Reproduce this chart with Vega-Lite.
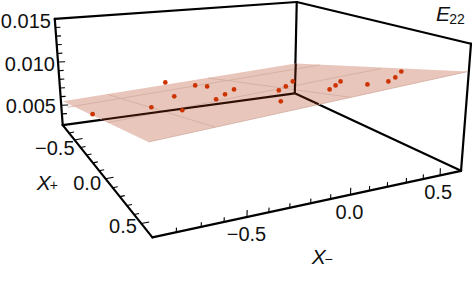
{"$schema":"https://vega.github.io/schema/vega-lite/v6.json","width":473,"height":285,"autosize":{"type":"fit","contains":"padding"},"padding":0,"background":"white","view":{"stroke":null},
"datasets":{
"plane":[{"u":62,"v":100,"v2":100},{"u":148,"v":86,"v2":141},{"u":296,"v":62,"v2":108.3},{"u":469,"v":70,"v2":70}],
"mesh":[{"u":67,"v":106,"u2":320,"v2":63.5},{"u":107,"v":121.5,"u2":382,"v2":67},{"u":107,"v":93,"u2":215,"v2":126},{"u":208,"v":76.5,"u2":351,"v2":96},{"u":148,"v":141,"u2":469,"v2":70}],
"frame":[{"u":54,"v":17,"u2":297,"v2":0},{"u":297,"v":0,"u2":472,"v2":42},{"u":54,"v":17,"u2":62,"v2":124},{"u":297,"v":0,"u2":295,"v2":92},{"u":472,"v":42,"u2":462,"v2":170},{"u":62,"v":124,"u2":295,"v2":92},{"u":295,"v":92,"u2":462,"v2":170},{"u":62,"v":124,"u2":152,"v2":237},{"u":152,"v":237,"u2":462,"v2":170}],
"inner":[{"u":101,"v":118.6,"u2":295,"v2":92},{"u":295,"v":92,"u2":319,"v2":103},{"u":296,"v":62,"u2":295,"v2":92}],
"ticks":[
{"u":54.65,"v":25.7,"u2":59.65,"v2":25.4},{"u":55.3,"v":34.4,"u2":60.3,"v2":34.1},{"u":56,"v":43.1,"u2":61,"v2":42.8},{"u":56.6,"v":51.8,"u2":61.6,"v2":51.5},{"u":57.3,"v":60.5,"u2":64.3,"v2":60.2},{"u":57.9,"v":69.2,"u2":62.9,"v2":68.9},{"u":58.6,"v":77.9,"u2":63.6,"v2":77.6},{"u":59.2,"v":86.6,"u2":64.2,"v2":86.3},{"u":59.9,"v":95.3,"u2":64.9,"v2":95},{"u":60.5,"v":104,"u2":67.5,"v2":103.7},{"u":61.2,"v":112.7,"u2":66.2,"v2":112.4},
{"u":68.4,"v":132,"u2":73.4,"v2":131},{"u":73.9,"v":139,"u2":81.9,"v2":137.5},{"u":79.9,"v":146.5,"u2":84.9,"v2":145.5},{"u":85.9,"v":154,"u2":90.9,"v2":153},{"u":92.2,"v":162,"u2":97.2,"v2":161},{"u":98.6,"v":170,"u2":103.6,"v2":169},{"u":105,"v":178,"u2":113,"v2":176.5},{"u":112.2,"v":187,"u2":117.2,"v2":186},{"u":119.3,"v":196,"u2":124.3,"v2":195},{"u":126.5,"v":205,"u2":131.5,"v2":204},{"u":133.6,"v":214,"u2":138.6,"v2":213},{"u":140.8,"v":223,"u2":148.8,"v2":221.5},
{"u":176,"v":231.8,"u2":176.2,"v2":227.2},{"u":201,"v":226.4,"u2":201.2,"v2":221.8},{"u":224,"v":221.4,"u2":224.2,"v2":216.8},{"u":247,"v":216.5,"u2":247.2,"v2":209.5},{"u":269,"v":211.7,"u2":269.2,"v2":207.1},{"u":290,"v":207.2,"u2":290.2,"v2":202.6},{"u":311,"v":202.6,"u2":311.2,"v2":198},{"u":331,"v":198.3,"u2":331.2,"v2":193.7},{"u":351,"v":194,"u2":351.2,"v2":187},{"u":370,"v":189.9,"u2":370.2,"v2":185.3},{"u":388,"v":186,"u2":388.2,"v2":181.4},{"u":407,"v":181.9,"u2":407.2,"v2":177.3},{"u":424,"v":178.2,"u2":424.2,"v2":173.6},{"u":441,"v":174.5,"u2":441.2,"v2":167.5}],
"points":[{"u":92,"v":113},{"u":151,"v":106},{"u":165,"v":81},{"u":174,"v":95},{"u":182,"v":109},{"u":195,"v":84},{"u":207,"v":85},{"u":216,"v":98},{"u":225,"v":93},{"u":234,"v":88},{"u":279,"v":89},{"u":286,"v":85},{"u":293,"v":80},{"u":281,"v":100},{"u":330,"v":88},{"u":336,"v":84},{"u":341,"v":80},{"u":368,"v":83},{"u":389,"v":80},{"u":396,"v":76},{"u":402,"v":70}],
"labels":[{"u":25,"v":20,"t":"0.015"},{"u":29,"v":63,"t":"0.010"},{"u":30,"v":106,"t":"0.005"},{"u":54,"v":148,"t":"−0.5"},{"u":86.5,"v":183,"t":"0.0"},{"u":122.5,"v":227,"t":"0.5"},{"u":246.5,"v":235,"t":"−0.5"},{"u":350,"v":212,"t":"0.0"},{"u":439,"v":192,"t":"0.5"}],
"names":[{"u":43,"v":183,"t":"X"},{"u":319,"v":258,"t":"X"},{"u":444,"v":13,"t":"E"}],
"subs":[{"u":53,"v":185,"t":"+"},{"u":329,"v":260,"t":"−"},{"u":458,"v":18,"t":"22"}]
},
"encoding":{
"x":{"field":"u","type":"quantitative","scale":{"domain":[0,473],"nice":false,"zero":false},"axis":null},
"y":{"field":"v","type":"quantitative","scale":{"domain":[285,0],"nice":false,"zero":false},"axis":null}
},
"layer":[
{"data":{"name":"frame"},"mark":{"type":"rule","color":"#000000","strokeWidth":2.2,"strokeCap":"round"},"encoding":{"x2":{"field":"u2"},"y2":{"field":"v2"}}},
{"data":{"name":"plane"},"mark":{"type":"area","color":"#e9c6bb","opacity":1,"interpolate":"linear","orient":"vertical"},"encoding":{"y2":{"field":"v2"}}},
{"data":{"name":"mesh"},"mark":{"type":"rule","color":"#d0aca0","strokeWidth":0.8},"encoding":{"x2":{"field":"u2"},"y2":{"field":"v2"}}},
{"data":{"name":"inner"},"mark":{"type":"rule","color":"#2e0f05","strokeWidth":2.2},"encoding":{"x2":{"field":"u2"},"y2":{"field":"v2"}}},
{"data":{"name":"ticks"},"mark":{"type":"rule","color":"#000000","strokeWidth":1.1},"encoding":{"x2":{"field":"u2"},"y2":{"field":"v2"}}},
{"data":{"name":"points"},"mark":{"type":"point","filled":true,"color":"#cc3300","opacity":1,"size":22}},
{"data":{"name":"labels"},"mark":{"type":"text","font":"Liberation Sans","fontSize":20,"align":"center","baseline":"middle","color":"#111111"},"encoding":{"text":{"field":"t"}}},
{"data":{"name":"names"},"mark":{"type":"text","font":"Liberation Sans","fontSize":21,"fontStyle":"italic","align":"center","baseline":"middle","color":"#111111"},"encoding":{"text":{"field":"t"}}},
{"data":{"name":"subs"},"mark":{"type":"text","font":"Liberation Sans","fontSize":14,"align":"center","baseline":"middle","color":"#111111"},"encoding":{"text":{"field":"t"}}}
]}
